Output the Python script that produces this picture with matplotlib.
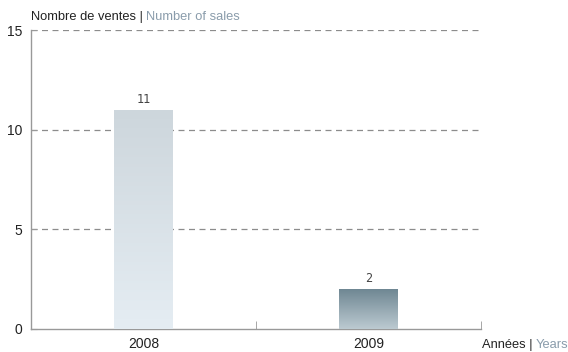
import matplotlib.pyplot as plt
import numpy as np
from matplotlib.colors import LinearSegmentedColormap

# sales per year
years = ['2008', '2009']
sales = [11, 2]
# gradient colours for each bar (top, bottom)
bar_colors = [('#cdd6dc', '#e5edf3'), ('#6f8793', '#bccad1')]

plt.rcParams['font.family'] = ['Liberation Sans', 'DejaVu Sans']

fig = plt.figure(figsize=(5.68, 3.52), dpi=100)
ax = fig.add_axes([31 / 568, 1 - 329 / 352, 450 / 568, 299 / 352])

x = np.arange(len(years))
width = 0.26
grad = np.linspace(0, 1, 256).reshape(-1, 1)

for xi, val, (top, bot) in zip(x, sales, bar_colors):
    bar = ax.bar(xi, val, width=width, color='none', zorder=3)[0]
    cmap = LinearSegmentedColormap.from_list('g', [bot, top])
    im = ax.imshow(grad, cmap=cmap, aspect='auto', origin='lower',
                   extent=[xi - width / 2, xi + width / 2, 0, val], zorder=3)
    im.set_clip_path(bar)
    ax.text(xi, val + 0.2, str(val), ha='center', va='bottom',
            fontsize=8.5, color='#444444', family='DejaVu Sans Mono')

ax.set_xlim(-0.5, 1.5)
ax.set_ylim(0, 15)
ax.set_yticks([0, 5, 10, 15])
ax.set_xticks(x)
ax.set_xticklabels(years)
ax.set_xticks([0.5, 1.5], minor=True)
ax.tick_params(axis='x', which='major', length=0, pad=6, labelsize=10, colors='#222222')
ax.tick_params(axis='x', which='minor', length=6, direction='in', color='#999999')
ax.tick_params(axis='y', length=4, direction='in', pad=6, labelsize=10,
               colors='#222222', color='#999999')

for v in [5, 10, 15]:
    ax.axhline(v, color='#8c8c8c', linestyle=(0, (4.8, 3.6)), linewidth=0.9, zorder=1)

for s in ['top', 'right']:
    ax.spines[s].set_visible(False)
for s in ['left', 'bottom']:
    ax.spines[s].set_color('#999999')
    ax.spines[s].set_linewidth(1)

# axis titles in two languages
t = fig.text(31 / 568, 1 - 17 / 352, 'Nombre de ventes | ', fontsize=9.3,
             color='#222222', va='center')
fig.canvas.draw()
bb = t.get_window_extent()
fig.text(bb.x1 / fig.bbox.width, 1 - 17 / 352, 'Number of sales', fontsize=9.3,
         color='#8a9cab', va='center')

t2 = fig.text(482 / 568, 1 - 345 / 352, 'Années | ', fontsize=9.3,
              color='#222222', va='center')
fig.canvas.draw()
bb2 = t2.get_window_extent()
fig.text(bb2.x1 / fig.bbox.width, 1 - 345 / 352, 'Years', fontsize=9.3,
         color='#8a9cab', va='center')

fig.savefig('out.png', dpi=100)
